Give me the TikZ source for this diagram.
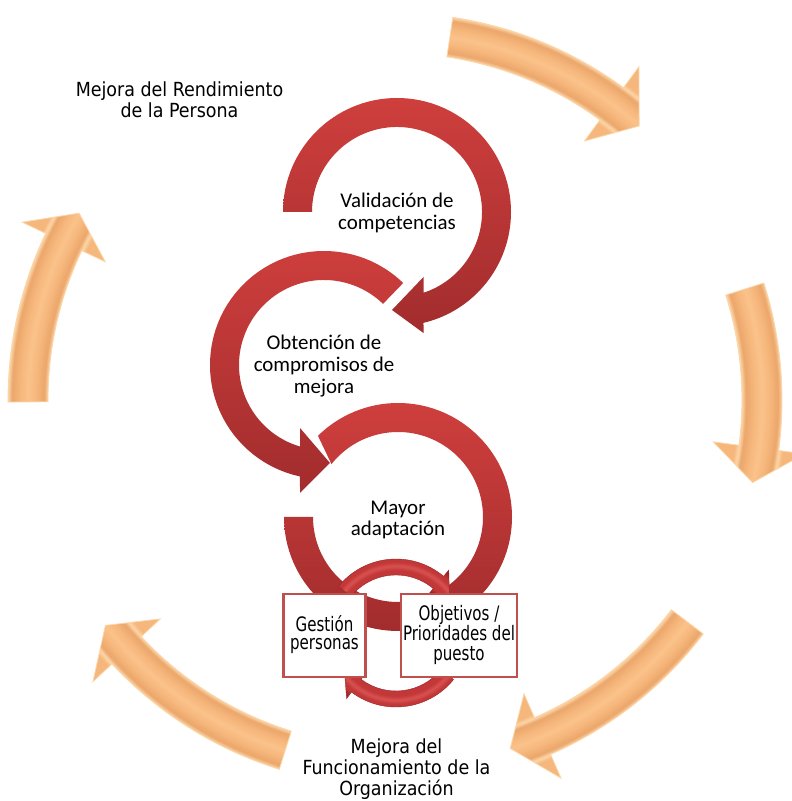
\documentclass[tikz,border=0pt]{standalone}
\usepackage{fontspec}
\setmainfont{Carlito}
\newfontfamily\labelfont{DejaVu Sans Condensed}
\usetikzlibrary{calc}

\definecolor{ringtop}{HTML}{CE3F3D}
\definecolor{ringbot}{HTML}{A22C2D}
\definecolor{orbase}{HTML}{F6B77C}
\definecolor{ormid}{HTML}{FAC28A}
\definecolor{orlight}{HTML}{FCD6A8}
\definecolor{ordark}{HTML}{EBA66B}
\definecolor{boxred}{HTML}{C0504D}
\definecolor{smdark}{HTML}{9A2326}
\definecolor{smmid}{HTML}{C23838}
\definecolor{smlight}{HTML}{D85250}

% bevelled band of the outer cycle (radius 367bp, half width 20bp)
\pgfdeclareradialshading{orangeband}{\pgfpoint{0bp}{0bp}}{%
  color(0bp)=(orbase); color(343bp)=(orbase); color(347bp)=(orlight);
  color(351bp)=(ordark); color(359bp)=(orbase); color(367bp)=(ormid);
  color(375bp)=(orbase); color(383bp)=(ordark); color(387bp)=(orlight);
  color(391bp)=(orbase); color(430bp)=(orbase)}
% bevelled band of the small cycle (radius 66bp, half width 8bp)
\pgfdeclareradialshading{redband}{\pgfpoint{0bp}{0bp}}{%
  color(0bp)=(smdark); color(54bp)=(smdark); color(58bp)=(smmid);
  color(63bp)=(smmid); color(67bp)=(smlight); color(71bp)=(smmid);
  color(74bp)=(smmid); color(79bp)=(smdark); color(90bp)=(smdark)}

\tikzset{
  ring/.style={top color=ringtop, bottom color=ringbot},
  orarrow/.style={draw=orlight, line width=0.8bp,
    path picture={\pgftext[at=\pgfpoint{395bp}{401bp}]{\pgfuseshading{orangeband}}}},
  smallarrow/.style={draw=smdark, line width=0.4bp,
    path picture={\pgftext[at=\pgfpoint{396bp}{168bp}]{\pgfuseshading{redband}}}},
  box/.style={draw=boxred, line width=2.5bp, fill=white, inner sep=0,
    minimum width=82bp, minimum height=83bp},
  ringtext/.style={font=\fontsize{21}{22}\selectfont, align=center, inner sep=0},
  biglabel/.style={font=\labelfont\fontsize{19.5}{21}\selectfont, align=center, inner sep=0},
  boxtext/.style={font=\labelfont\fontsize{20}{18}\selectfont}
}

% curved arrow of the outer cycle: tail angle, head base angle, tip angle
\newcommand\cyclearrow[3]{%
  \path[orarrow] ($(O)+(#1:387)$) arc[start angle=#1, end angle=#2, radius=387]
    -- ($(O)+(#2:413)$) -- ($(O)+(#3:367)$) -- ($(O)+(#2:321)$)
    -- ($(O)+(#2:347)$) arc[start angle=#2, end angle=#1, radius=347] -- cycle;}

\begin{document}
\begin{tikzpicture}[x=1bp, y=1bp]
\useasboundingbox (0,0) rectangle (792,801);
\fill[white] (0,0) rectangle (792,801);

\coordinate (O) at (395,401);
\coordinate (C1) at (397,589);
\coordinate (C2) at (324,436);
\coordinate (C3) at (398,284);
\coordinate (S) at (396,168);

% outer cycle
\cyclearrow{81.4}{53.8}{48.3}
\cyclearrow{17.6}{-7.5}{-13}
\cyclearrow{-37.2}{-66.3}{-71.7}
\cyclearrow{-107.4}{-137}{-142.1}
\cyclearrow{180.3}{154.5}{149.4}

% three circular arrows
\path[ring] ($(C1)+(180:114)$) arc[start angle=180, end angle=-76.56, radius=114]
  -- (423.5,468) -- (392,491) -- (423.5,524)
  -- ($(C1)+(-71.83:85)$) arc[start angle=-71.83, end angle=180, radius=85] -- cycle;
\path[ring] ($(C2)+(46:114)$) arc[start angle=46, end angle=257.84, radius=114]
  -- (300,308) -- (330,338) -- (300,373)
  -- ($(C2)+(253.6:85)$) arc[start angle=253.6, end angle=46, radius=85] -- cycle;
\path[ring] ($(C3)+(180:114)$) arc[start angle=180, end angle=494.6, radius=114]
  -- ($(C3)+(501.5:85)$) arc[start angle=501.5, end angle=180, radius=85] -- cycle;

\node[ringtext] (val) at (397,588) {Validación de\\competencias};
\node[ringtext] (obt) at (324,435) {Obtención de\\compromisos de\\mejora};
\node[ringtext] (may) at (398,281) {Mayor\\adaptación};

% small cycle between the two boxes
\path[smallarrow] ($(S)+(141:74)$) arc[start angle=141, end angle=50, radius=74]
  -- ($(S)+(50:82)$) -- ($(S)+(36:66)$) -- ($(S)+(50:50)$)
  -- ($(S)+(50:58)$) arc[start angle=50, end angle=141, radius=58] -- cycle;
\path[smallarrow] ($(S)+(-39:74)$) arc[start angle=-39, end angle=-127, radius=74]
  -- ($(S)+(-127:82)$) -- ($(S)+(-141:66)$) -- ($(S)+(-127:50)$)
  -- ($(S)+(-127:58)$) arc[start angle=-127, end angle=-39, radius=58] -- cycle;

\node[box, boxtext] (gest) at (324.5,165.5)
  {\scalebox{0.84}[1]{\begin{tabular}{@{}c@{}}Gestión\\personas\end{tabular}}};
\node[box, boxtext, minimum width=116bp] (obj) at (459,165.5)
  {\scalebox{0.84}[1]{\begin{tabular}{@{}c@{}}Objetivos /\\Prioridades del\\puesto\end{tabular}}};

% labels of the outer cycle
\node[biglabel] (rend) at (179.5,701) {Mejora del Rendimiento\\de la Persona};
\node[biglabel] (func) at (396.5,32) {Mejora del\\Funcionamiento de la\\Organización};
\end{tikzpicture}
\end{document}
